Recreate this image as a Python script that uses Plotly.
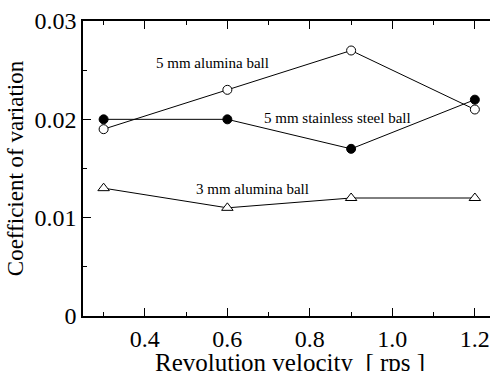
import plotly.graph_objects as go

velocity = [0.3, 0.6, 0.9, 1.2]
alumina5 = [0.019, 0.023, 0.027, 0.021]
steel5 = [0.020, 0.020, 0.017, 0.022]
alumina3 = [0.013, 0.011, 0.012, 0.012]

x_tickvals = [0.4, 0.6, 0.8, 1.0, 1.2]
x_ticktext = ["0.4", "0.6", "0.8", "1.0", "1.2"]
y_tickvals = [0, 0.01, 0.02, 0.03]
y_ticktext = ["0", "0.01", "0.02", "0.03"]
x_title = "Revolution velocity  [ rps ]"
y_title = "Coefficient of variation"

labels = [
    ("5 mm alumina ball", 0.565, 0.0257),
    ("5 mm stainless steel ball", 0.866, 0.0201),
    ("3 mm alumina ball", 0.662, 0.0129),
]

FONT = "Liberation Serif"

fig = go.Figure()
fig.add_trace(go.Scatter(x=velocity, y=alumina5, mode="lines+markers",
                         line=dict(color="black", width=1),
                         marker=dict(symbol="circle", size=9, color="white",
                                     line=dict(color="black", width=1))))
fig.add_trace(go.Scatter(x=velocity, y=steel5, mode="lines+markers",
                         line=dict(color="black", width=1),
                         marker=dict(symbol="circle", size=9, color="black",
                                     line=dict(color="black", width=1))))
fig.add_trace(go.Scatter(x=velocity, y=alumina3, mode="lines+markers",
                         line=dict(color="black", width=1),
                         marker=dict(symbol="triangle-up", size=10, color="white",
                                     line=dict(color="black", width=1))))

for text, x, y in labels:
    fig.add_annotation(x=x, y=y, text=text, showarrow=False,
                       font=dict(family=FONT, size=15, color="black"))

# x axis title placed below the tick labels (partly cut by the page edge as in the reference)
fig.add_annotation(xref="paper", yref="paper", x=0.5086, y=-0.158,
                   xanchor="center", yanchor="middle", text=x_title, showarrow=False,
                   font=dict(family=FONT, size=25, color="black"))

fig.update_layout(
    width=490, height=371,
    margin=dict(l=83, r=0, t=21, b=55),
    paper_bgcolor="white", plot_bgcolor="white",
    showlegend=False,
    font=dict(family=FONT, color="black"),
    xaxis=dict(range=[0.25, 1.2367], tickvals=x_tickvals, ticktext=x_ticktext,
               ticks="inside", ticklen=8, tickwidth=1, tickcolor="black",
               showline=True, linecolor="black", linewidth=1.5, mirror="ticks",
               showgrid=False, zeroline=False, automargin=False,
               tickfont=dict(family=FONT, size=24, color="black"),
               minor=dict(dtick=0.1, tick0=0.3, ticks="inside", ticklen=4, tickcolor="black")),
    yaxis=dict(range=[0, 0.03], tickvals=y_tickvals, ticktext=y_ticktext,
               ticks="inside", ticklen=8, tickwidth=1, tickcolor="black",
               showline=True, linecolor="black", linewidth=1.5,
               showgrid=False, zeroline=False, automargin=False,
               tickfont=dict(family=FONT, size=24, color="black"),
               minor=dict(dtick=0.005, ticks="inside", ticklen=4, tickcolor="black"),
               title=dict(text=y_title, standoff=4,
                          font=dict(family=FONT, size=23, color="black"))),
    yaxis2=dict(range=[0, 0.03], overlaying="y", side="right", anchor="x",
                tickvals=[0.01, 0.02], ticks="inside", ticklen=2, tickcolor="black",
                showticklabels=False, showgrid=False, zeroline=False, showline=False),
)

fig.write_html("out.html", config={"displayModeBar": False},
               post_script="document.body.style.margin='0';document.body.style.overflow='hidden';")
